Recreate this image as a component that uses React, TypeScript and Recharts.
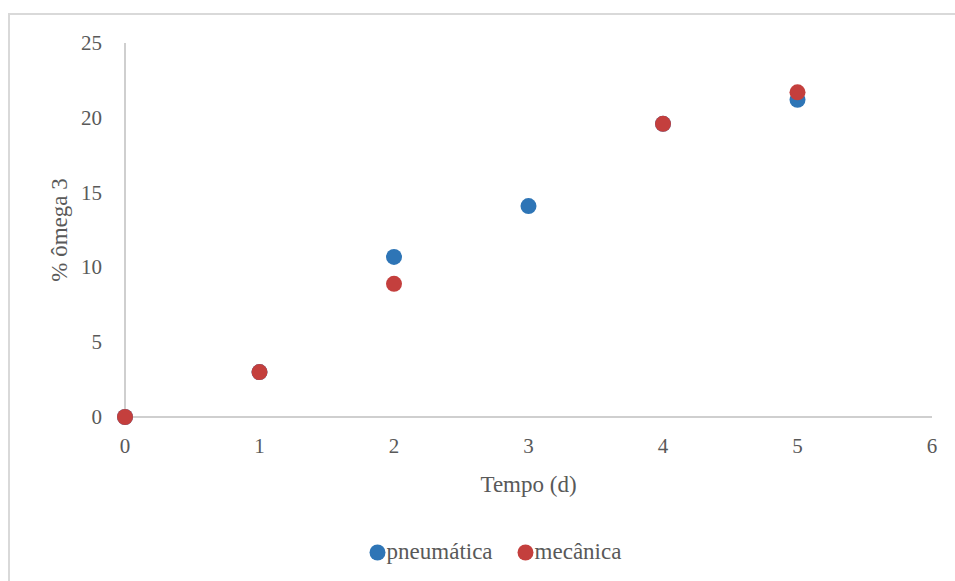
import { ScatterChart, Scatter, XAxis, YAxis, Legend, Label } from "recharts";

const pneumatica = [
  { x: 0, y: 0 },
  { x: 1, y: 3 },
  { x: 2, y: 10.7 },
  { x: 3, y: 14.1 },
  { x: 4, y: 19.6 },
  { x: 5, y: 21.2 },
];
const mecanica = [
  { x: 0, y: 0 },
  { x: 1, y: 3 },
  { x: 2, y: 8.9 },
  { x: 4, y: 19.6 },
  { x: 5, y: 21.7 },
];
const xTicks = [0, 1, 2, 3, 4, 5, 6];
const yTicks = [0, 5, 10, 15, 20, 25];

const BLUE = "#2E75B6";
const RED = "#C43F3D";
const TEXT = "#595959";
const AXIS = "#BFBFBF";
const FONT = "Liberation Serif";

const dot = (color: string) => (p: any) => <circle cx={p.cx} cy={p.cy} r={8} fill={color} />;

const XTick = (p: any) => (
  <text x={p.x} y={p.y + 28} textAnchor="middle" fill={TEXT} fontSize={21} fontFamily={FONT}>
    {p.payload.value}
  </text>
);
const YTick = (p: any) => (
  <text x={p.x - 15} y={p.y + 7} textAnchor="end" fill={TEXT} fontSize={21} fontFamily={FONT}>
    {p.payload.value}
  </text>
);

function LegendBox() {
  const items = [
    { name: "pneumática", color: BLUE },
    { name: "mecânica", color: RED },
  ];
  return (
    <div style={{ display: "flex", justifyContent: "center", gap: 24, fontFamily: FONT, fontSize: 23, color: TEXT, paddingLeft: 10 }}>
      {items.map((it) => (
        <span key={it.name} style={{ display: "flex", alignItems: "center" }}>
          <svg width={17} height={17} style={{ marginRight: 1 }}>
            <circle cx={8.5} cy={8.5} r={8} fill={it.color} />
          </svg>
          {it.name}
        </span>
      ))}
    </div>
  );
}

export default function App() {
  return (
    <div style={{ position: "absolute", left: 0, top: 0, width: 955, height: 581, overflow: "hidden", background: "#fff", fontFamily: FONT }}>
      <div style={{ position: "absolute", left: 8, top: 13, width: 960, height: 600, border: "2px solid #D9D9D9" }} />
      <ScatterChart
        width={955}
        height={581}
        margin={{ top: 43, right: 23, bottom: 108, left: 65 }}
        style={{ position: "absolute", left: 0, top: 0, fontFamily: FONT }}
      >
        <XAxis
          type="number"
          dataKey="x"
          domain={[0, 6]}
          ticks={xTicks}
          height={30}
          tickLine={false}
          axisLine={{ stroke: AXIS, strokeWidth: 1.5 }}
          tick={<XTick />}
        >
          <Label value="Tempo (d)" position="bottom" offset={29} style={{ fill: TEXT, fontSize: 23, fontFamily: FONT }} />
        </XAxis>
        <YAxis
          type="number"
          dataKey="y"
          domain={[0, 25]}
          ticks={yTicks}
          width={60}
          tickLine={false}
          axisLine={{ stroke: AXIS, strokeWidth: 1.5 }}
          tick={<YTick />}
        >
          <Label
            value="% ômega 3"
            angle={-90}
            position="insideLeft"
            offset={-6}
            style={{ fill: TEXT, fontSize: 23, fontFamily: FONT, textAnchor: "middle" }}
          />
        </YAxis>
        <Legend
          verticalAlign="bottom"
          wrapperStyle={{ left: 0, width: 980, bottom: 16 }}
          content={() => <LegendBox />}
        />
        <Scatter name="pneumática" data={pneumatica} fill={BLUE} shape={dot(BLUE)} isAnimationActive={false} />
        <Scatter name="mecânica" data={mecanica} fill={RED} shape={dot(RED)} isAnimationActive={false} />
      </ScatterChart>
    </div>
  );
}
